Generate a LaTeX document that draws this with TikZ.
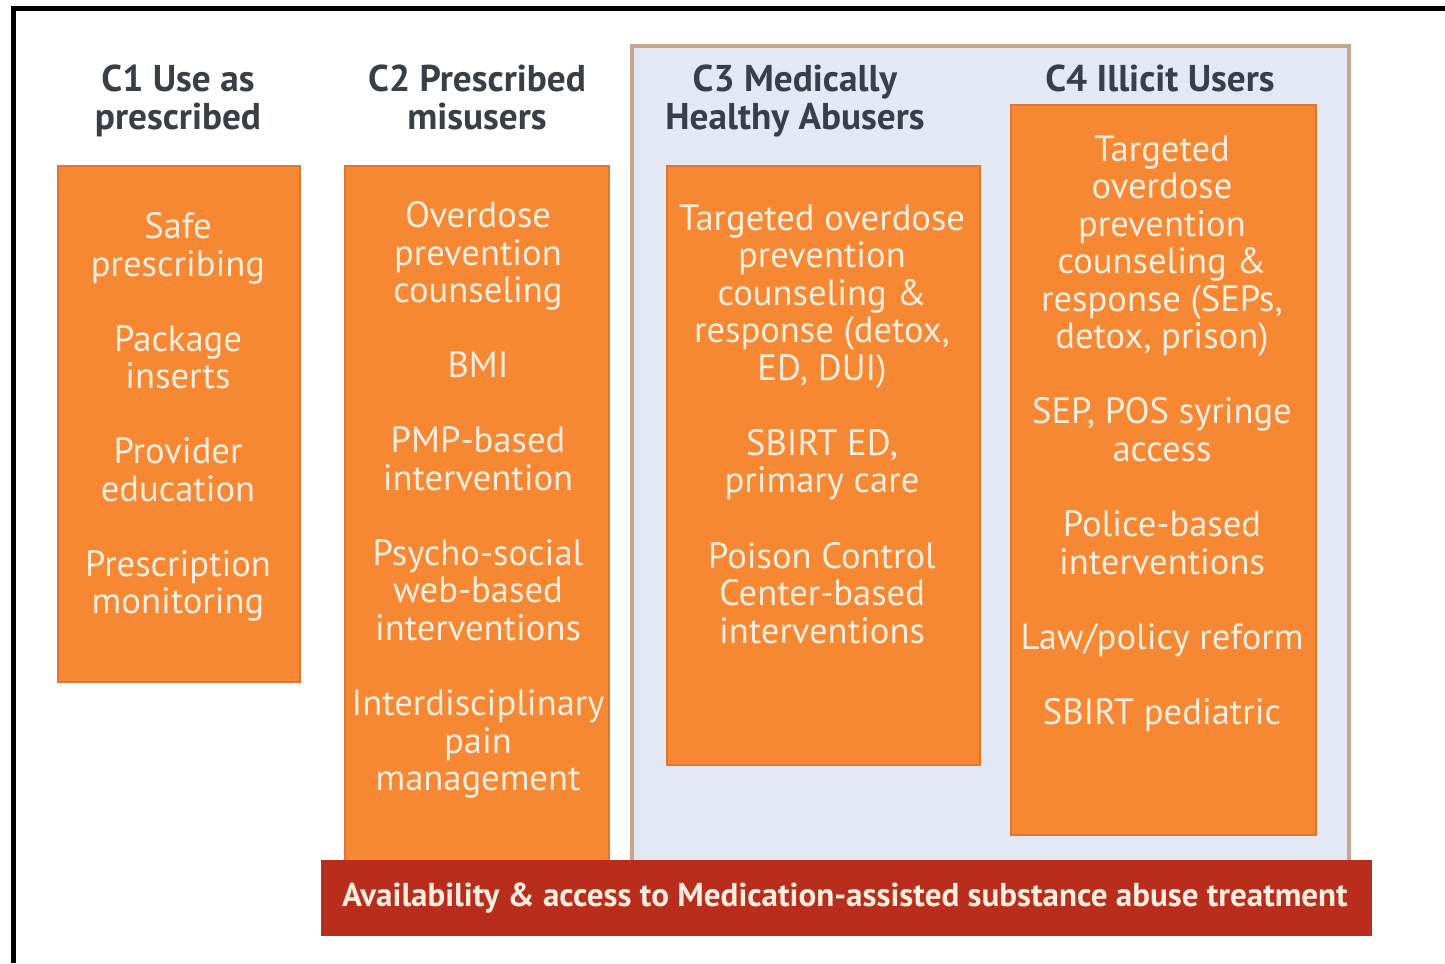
\documentclass[tikz,border=0pt]{standalone}
\usepackage{fontspec}
\setmainfont{PT Sans}
\usetikzlibrary{positioning}

\definecolor{boxorange}{RGB}{246,136,52}
\definecolor{boxedge}{RGB}{224,118,52}
\definecolor{barred}{RGB}{184,45,27}
\definecolor{panelblue}{RGB}{226,233,245}
\definecolor{paneledge}{RGB}{200,166,142}
\definecolor{headgray}{RGB}{58,62,70}
\definecolor{itemtext}{RGB}{253,238,224}

\tikzset{
  heading/.style={anchor=north, align=center, inner sep=0pt, text=headgray,
    font=\bfseries\fontsize{10.6}{10.9}\selectfont},
  items/.style={anchor=north, align=center, inner sep=0pt, text=itemtext,
    font=\fontsize{10.4}{10.67}\selectfont},
  catbox/.style={fill=boxorange, draw=boxedge, line width=0.8pt},
}
% blank line between two interventions
\newcommand{\gap}{\\[10.67pt]}

\begin{document}
\begin{tikzpicture}[x=0.01cm,y=-0.01cm]
  \useasboundingbox (0,0) rectangle (1445,963);
  \fill[white] (0,0) rectangle (1445,963);
  % frame
  \draw[line width=1.3pt] (13.5,963) -- (13.5,8.5) -- (1445,8.5);

  % C3/C4 panel
  \draw[fill=panelblue, draw=paneledge, line width=0.9pt] (632,46) rectangle (1349,870);

  % the four columns
  \draw[catbox] (58,166) rectangle (300,682);
  \draw[catbox] (345,166) rectangle (609,870);
  \draw[catbox] (667,166) rectangle (980,765);
  \draw[catbox] (1011,105) rectangle (1316,835);

  \node[heading] (h1) at (178,64) {C1 Use as\\prescribed};
  \node[heading] (h2) at (477,64) {C2 Prescribed\\misusers};
  \node[heading] (h3) at (795,64) {C3 Medically\\Healthy Abusers};
  \node[heading] (h4) at (1160,64) {C4 Illicit Users};

  \node[items] (c1) at (178,212) {Safe\\prescribing\gap
    Package\\inserts\gap
    Provider\\education\gap
    Prescription\\monitoring};
  \node[items] (c2) at (478,201) {Overdose\\prevention\\counseling\gap
    BMI\gap
    PMP-based\\intervention\gap
    Psycho-social\\web-based\\interventions\gap
    Interdisciplinary\\pain\\management};
  \node[items] (c3) at (822,204) {Targeted overdose\\prevention\\counseling \&\\response (detox,\\ED, DUI)\gap
    SBIRT ED,\\primary care\gap
    Poison Control\\Center-based\\interventions};
  \node[items] (c4) at (1162,135) {Targeted\\overdose\\prevention\\counseling \&\\response (SEPs,\\detox, prison)\gap
    SEP, POS syringe\\access\gap
    Police-based\\interventions\gap
    Law/policy reform\gap
    SBIRT pediatric};

  % treatment bar along the bottom
  \fill[barred] (321,860) rectangle (1372,936);
  \node[inner sep=0pt, text=itemtext, font=\bfseries\fontsize{9.4}{11}\selectfont] (mat)
    at (845,898) {Availability \& access to Medication-assisted substance abuse treatment};
\end{tikzpicture}
\end{document}
